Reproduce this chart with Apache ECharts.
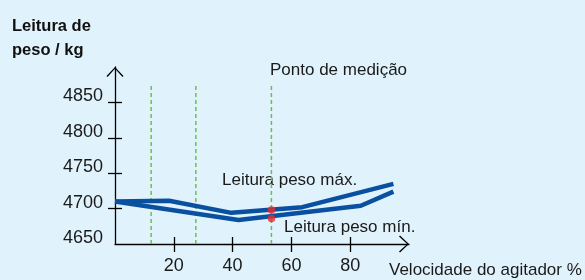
<!DOCTYPE html>
<html>
<head>
<meta charset="utf-8">
<script src="https://cdn.jsdelivr.net/npm/echarts@6/dist/echarts.min.js"></script>
<style>
html,body{margin:0;padding:0;background:#e0f2fc;}
#c{width:585px;height:280px;}
</style>
</head>
<body>
<div id="c"></div>
<script>
// ---- data ----
const xTickValues = [20, 40, 60, 80];
const yTickValues = [4650, 4700, 4750, 4800, 4850];
const yTickMarks = [4700, 4750, 4800, 4850];
const maxLineX = [0, 18.4, 39.6, 63.7, 94.7];
const maxLineY = [4710, 4711, 4694, 4702, 4735];
const minLineX = [0, 42, 83.6, 94.7];
const minLineY = [4710, 4684, 4704, 4724];
const guideX = [12.3, 27.5, 53.2];
const guideTop = 4875;
const measureX = [53.2, 53.2];
const measureY = [4698, 4686];
const yTitle = 'Leitura de\npeso / kg';
const xTitle = 'Velocidade do agitador %';
const labelMax = 'Leitura peso máx.';
const labelMin = 'Leitura peso mín.';
const labelPoint = 'Ponto de medição';

const FONT = 'Liberation Sans';
const TXT = '#1a1a1a';
const BLUE = '#0a50a0';
const arrowPath = 'path://M8.5,0 L17,9 L16,10 L8.5,1.8 L1,10 L0,9 Z';

function pairs(xs, ys) { return xs.map((x, i) => [x, ys[i]]); }

const series = [];
guideX.forEach(gx => {
  series.push({
    type: 'line', data: [[gx, yTickValues[0]], [gx, guideTop]],
    symbol: 'none', silent: true, z: 1,
    lineStyle: { color: '#6dbf4c', width: 1.5, type: [4, 3] }
  });
});
series.push({
  type: 'line', data: pairs(maxLineX, maxLineY), symbol: 'none', z: 3,
  lineStyle: { color: BLUE, width: 4.5, join: 'round' }
});
series.push({
  type: 'line', data: pairs(minLineX, minLineY), symbol: 'none', z: 3,
  lineStyle: { color: BLUE, width: 4.5, join: 'round' }
});
series.push({
  type: 'scatter', data: pairs(measureX, measureY), symbolSize: 7.5, z: 5,
  itemStyle: { color: '#ee2a2a' }
});

const chart = echarts.init(document.getElementById('c'), null, { renderer: 'canvas' });
chart.setOption({
  backgroundColor: '#e0f2fc',
  animation: false,
  grid: { left: 115, top: 67, width: 294, bottom: 36, containLabel: false },
  xAxis: [{
    type: 'value', min: 0, max: 100, position: 'bottom',
    splitLine: { show: false },
    axisLine: { show: true, lineStyle: { color: '#000', width: 1.3 },
      symbol: ['none', arrowPath], symbolSize: [17, 10], symbolOffset: [0, -5] },
    axisTick: { show: true, customValues: xTickValues, length: 8, inside: false, lineStyle: { color: '#000', width: 1.3 } },
    axisLabel: { customValues: xTickValues, color: TXT, fontFamily: FONT, fontSize: 18, margin: 13 },
    name: xTitle, nameLocation: 'end', nameGap: -20,
    nameTextStyle: { color: TXT, fontFamily: FONT, fontSize: 17, align: 'left', verticalAlign: 'top', padding: [18, 0, 0, 0] }
  }, {
    type: 'value', min: 0, max: 100, position: 'bottom',
    splitLine: { show: false }, axisLine: { show: false },
    axisTick: { show: true, customValues: xTickValues, length: 7, inside: true, lineStyle: { color: '#000', width: 1.3 } },
    axisLabel: { show: false }
  }],
  yAxis: [{
    type: 'value', min: 4650, max: 4900, position: 'left',
    splitLine: { show: false },
    axisLine: { show: true, lineStyle: { color: '#000', width: 1.3 },
      symbol: ['none', arrowPath], symbolSize: [17, 10], symbolOffset: [0, -5] },
    axisTick: { show: true, customValues: yTickMarks, length: 7, inside: false, lineStyle: { color: '#000', width: 1.3 } },
    axisLabel: {
      customValues: yTickValues, margin: 12,
      formatter: v => '{v|' + String(v) + '}',
      rich: { v: { color: TXT, fontFamily: FONT, fontSize: 18, padding: [0, 0, 12, 0] } }
    }
  }, {
    type: 'value', min: 4650, max: 4900, position: 'left',
    splitLine: { show: false }, axisLine: { show: false },
    axisTick: { show: true, customValues: yTickMarks, length: 7, inside: true, lineStyle: { color: '#000', width: 1.3 } },
    axisLabel: { show: false }
  }],
  graphic: [
    { type: 'text', left: 12, top: 14, style: { text: yTitle, fill: '#111', font: 'bold 16.5px "' + FONT + '"', lineHeight: 24 } },
    { type: 'text', left: 222, top: 172, style: { text: labelMax, fill: TXT, font: '17px "' + FONT + '"' } },
    { type: 'text', left: 284, top: 219, style: { text: labelMin, fill: TXT, font: '17px "' + FONT + '"' } },
    { type: 'text', left: 270, top: 62, style: { text: labelPoint, fill: TXT, font: '17px "' + FONT + '"' } }
  ],
  series: series
});
</script>
</body>
</html>
